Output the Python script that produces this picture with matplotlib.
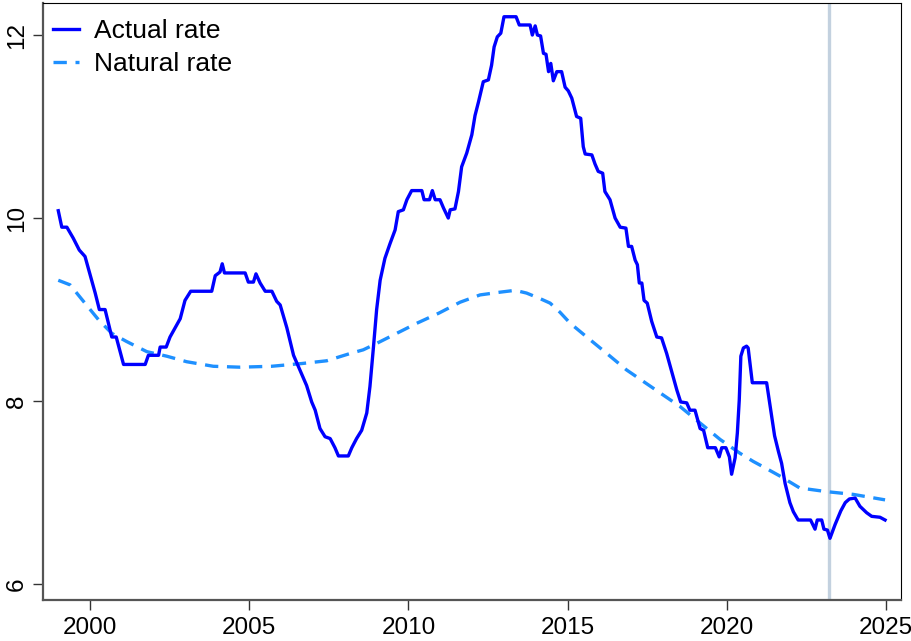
import matplotlib
matplotlib.use("Agg")
import matplotlib.pyplot as plt

# taux effectif
actual_year = [
    1999.0, 1999.11, 1999.27, 1999.47, 1999.66, 1999.84, 2000.0, 2000.16, 2000.29, 2000.47,
    2000.68, 2000.82, 2000.99, 2001.05, 2001.73, 2001.83, 2002.15, 2002.2, 2002.39, 2002.51,
    2002.67, 2002.83, 2002.98, 2003.16, 2003.82, 2003.93, 2004.08, 2004.15, 2004.22, 2004.87,
    2004.97, 2005.13, 2005.21, 2005.34, 2005.50, 2005.71, 2005.86, 2005.97, 2006.18, 2006.39,
    2006.60, 2006.80, 2006.96, 2007.07, 2007.22, 2007.38, 2007.54, 2007.69, 2007.80, 2008.11,
    2008.22, 2008.37, 2008.53, 2008.69, 2008.79, 2008.90, 2009.0, 2009.11, 2009.26, 2009.42,
    2009.58, 2009.68, 2009.84, 2009.95, 2010.10, 2010.42, 2010.49, 2010.66, 2010.75, 2010.84,
    2010.99, 2011.10, 2011.25, 2011.31, 2011.46, 2011.57, 2011.67, 2011.83, 2011.99, 2012.09,
    2012.20, 2012.35, 2012.51, 2012.61, 2012.69, 2012.79, 2012.90, 2013.0, 2013.38, 2013.48,
    2013.82, 2013.89, 2013.98, 2014.05, 2014.15, 2014.24, 2014.32, 2014.40, 2014.47, 2014.55,
    2014.66, 2014.81, 2014.92, 2015.02, 2015.13, 2015.28, 2015.41, 2015.49, 2015.55, 2015.76,
    2015.86, 2015.96, 2016.10, 2016.17, 2016.33, 2016.49, 2016.65, 2016.83, 2016.91, 2017.01,
    2017.12, 2017.19, 2017.25, 2017.33, 2017.40, 2017.50, 2017.64, 2017.80, 2017.95, 2018.11,
    2018.27, 2018.43, 2018.55, 2018.74, 2018.84, 2019.0, 2019.16, 2019.27, 2019.40, 2019.64,
    2019.76, 2019.84, 2019.97, 2020.08, 2020.15, 2020.26, 2020.33, 2020.39, 2020.44, 2020.52,
    2020.62, 2020.67, 2020.80, 2021.25, 2021.38, 2021.50, 2021.62, 2021.72, 2021.83, 2021.98,
    2022.09, 2022.24, 2022.63, 2022.77, 2022.84, 2022.98, 2023.05, 2023.16, 2023.24, 2023.40,
    2023.58, 2023.72, 2023.85, 2024.03, 2024.18, 2024.39, 2024.55, 2024.81, 2024.97,
]
actual_rate = [
    10.08, 9.90, 9.90, 9.78, 9.65, 9.58, 9.38, 9.18, 9.0, 9.0,
    8.70, 8.70, 8.48, 8.40, 8.40, 8.50, 8.50, 8.59, 8.59, 8.70,
    8.80, 8.90, 9.10, 9.20, 9.20, 9.37, 9.41, 9.50, 9.40, 9.40,
    9.30, 9.30, 9.39, 9.29, 9.20, 9.20, 9.09, 9.05, 8.80, 8.50,
    8.33, 8.17, 7.99, 7.90, 7.70, 7.61, 7.59, 7.49, 7.40, 7.40,
    7.49, 7.59, 7.68, 7.87, 8.16, 8.59, 9.0, 9.32, 9.56, 9.72,
    9.87, 10.07, 10.09, 10.20, 10.30, 10.30, 10.20, 10.20, 10.30, 10.20,
    10.20, 10.11, 10.0, 10.09, 10.10, 10.29, 10.56, 10.71, 10.91, 11.12,
    11.27, 11.49, 11.51, 11.67, 11.87, 11.98, 12.02, 12.20, 12.20, 12.11,
    12.11, 12.0, 12.10, 12.0, 11.99, 11.80, 11.79, 11.60, 11.69, 11.50,
    11.60, 11.60, 11.43, 11.39, 11.31, 11.11, 11.09, 10.78, 10.70, 10.69,
    10.59, 10.51, 10.49, 10.29, 10.20, 10.0, 9.90, 9.89, 9.69, 9.69,
    9.54, 9.49, 9.29, 9.29, 9.10, 9.07, 8.87, 8.70, 8.69, 8.52,
    8.32, 8.12, 7.99, 7.98, 7.90, 7.90, 7.70, 7.68, 7.49, 7.49,
    7.39, 7.49, 7.49, 7.39, 7.20, 7.38, 7.65, 8.01, 8.49, 8.58,
    8.60, 8.58, 8.20, 8.20, 7.90, 7.62, 7.45, 7.32, 7.10, 6.89,
    6.79, 6.70, 6.70, 6.60, 6.70, 6.70, 6.60, 6.59, 6.50, 6.65,
    6.80, 6.89, 6.93, 6.94, 6.85, 6.78, 6.74, 6.73, 6.70,
]

# taux naturel
natural_year = [
    1999.0, 1999.37, 1999.79, 2000.26, 2000.68, 2001.15, 2001.78, 2002.41, 2003.03, 2003.87,
    2004.71, 2005.70, 2006.65, 2007.43, 2008.17, 2008.58, 2009.0, 2009.63, 2010.26, 2010.95,
    2011.62, 2012.25, 2012.88, 2013.35, 2013.71, 2014.13, 2014.45, 2014.76, 2015.08, 2015.60,
    2016.23, 2016.85, 2017.48, 2017.90, 2018.53, 2019.16, 2019.79, 2020.41, 2020.83, 2021.15,
    2021.67, 2022.29, 2023.13, 2023.97, 2024.97,
]
natural_rate = [
    9.32, 9.27, 9.09, 8.89, 8.74, 8.65, 8.54, 8.49, 8.43, 8.38,
    8.37, 8.38, 8.41, 8.44, 8.52, 8.56, 8.63, 8.74, 8.85, 8.96,
    9.08, 9.16, 9.19, 9.21, 9.18, 9.12, 9.07, 8.97, 8.85, 8.70,
    8.52, 8.34, 8.19, 8.09, 7.94, 7.76, 7.58, 7.43, 7.34, 7.28,
    7.18, 7.05, 7.01, 6.98, 6.92,
]

vline_year = 2023.21
x_ticks = [2000, 2005, 2010, 2015, 2020, 2025]
y_ticks = [6, 8, 10, 12]

plt.rcParams['font.family'] = ['Liberation Sans', 'DejaVu Sans']

fig = plt.figure(figsize=(9.11, 6.41), dpi=100)
ax = fig.add_axes([0.0472, 0.064, 0.9418, 0.9313])

ax.axvline(vline_year, color='#c3d1df', lw=2.4, zorder=1)
ax.plot(actual_year, actual_rate, color='#0000ff', lw=2.4, label="Actual rate", zorder=3)
ax.plot(natural_year, natural_rate, color='#1e90ff', lw=2.4, linestyle=(0, (4, 2.6)),
        label="Natural rate", zorder=2)

ax.set_xlim(1998.52, 2025.47)
ax.set_ylim(5.826, 12.35)
ax.set_xticks(x_ticks)
ax.set_yticks(y_ticks)
ax.set_yticklabels([str(v) for v in y_ticks], rotation=90, va='center')
ax.tick_params(axis='both', direction='out', length=7, width=1, labelsize=17.5,
               color='#333333')
ax.tick_params(axis='x', pad=5)
ax.tick_params(axis='y', pad=4)

for s in ['top', 'right']:
    ax.spines[s].set_linewidth(0.8)
    ax.spines[s].set_color('black')
for s in ['left', 'bottom']:
    ax.spines[s].set_linewidth(1.6)
    ax.spines[s].set_color('#555555')

ax.legend(loc='upper left', frameon=False, fontsize=19, handlelength=1.0,
          handletextpad=0.55, borderpad=0.25, borderaxespad=0.13, labelspacing=0.35,
          bbox_to_anchor=(0.0, 0.99))

fig.savefig("out.png", dpi=100)
